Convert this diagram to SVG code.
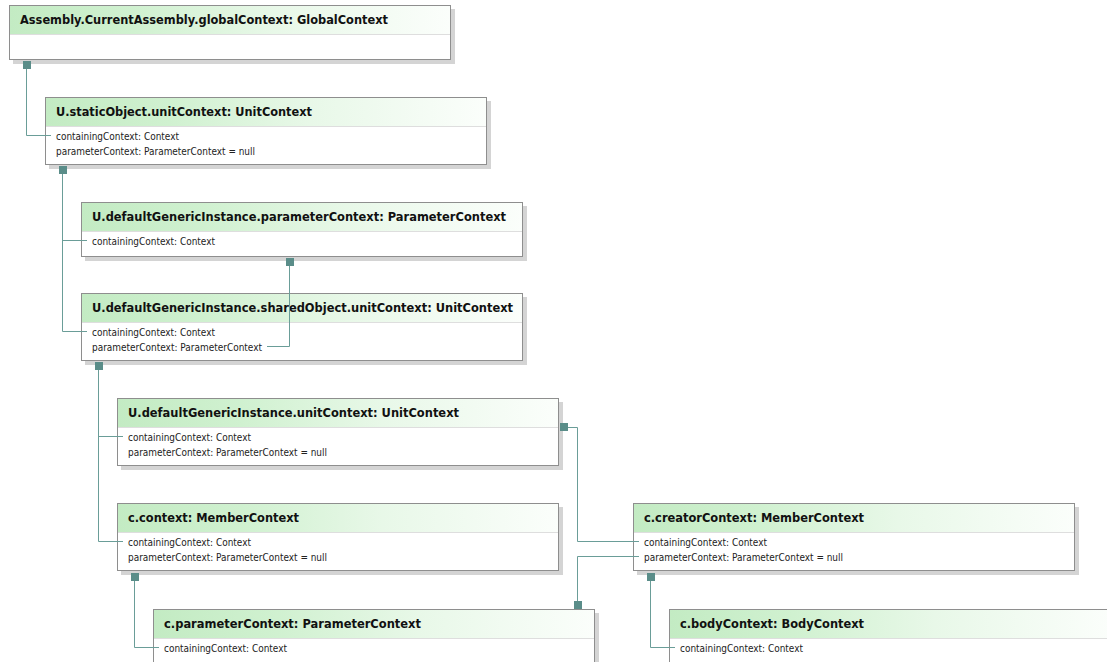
<svg xmlns="http://www.w3.org/2000/svg" width="1107" height="662" viewBox="0 0 1107 662">
  <style>
    .shadow { fill: #d4d4d4; }
    .body { fill: #ffffff; stroke: #8e8e8e; stroke-width: 1; }
    .head { fill: url(#headFill); }
    .sep { stroke: #dedede; stroke-width: 1; }
    .title { font-family: "DejaVu Sans", Verdana, sans-serif; font-weight: bold; font-size: 12px; fill: #111111; }
    .attr { font-family: "DejaVu Sans", Verdana, sans-serif; font-size: 10px; fill: #222222; }
    .wire { fill: none; stroke: #6a9d98; stroke-width: 1; }
    .port { fill: #5a8d89; }
  </style>
  <defs>
    <linearGradient id="headFill" x1="0" y1="0" x2="1" y2="0">
      <stop offset="0" stop-color="#c3ebc3"/>
      <stop offset="0.28" stop-color="#d0f1d0"/>
      <stop offset="0.6" stop-color="#e8f8e8"/>
      <stop offset="1" stop-color="#fbfefb"/>
    </linearGradient>
  </defs>

  <rect width="1107" height="662" fill="#ffffff"/>

  <!-- object boxes -->
  <g id="globalContext" transform="translate(9,5)">
    <rect class="shadow" x="4" y="4" width="442" height="55"/>
    <rect class="body" x="0.5" y="0.5" width="441" height="54"/>
    <rect class="head" x="1" y="1" width="440" height="28"/>
    <line class="sep" x1="1" y1="29.5" x2="441" y2="29.5"/>
    <text class="title" x="11" y="18.5" textLength="368" lengthAdjust="spacingAndGlyphs">Assembly.CurrentAssembly.globalContext: GlobalContext</text>
  </g>

  <g id="staticUnitContext" transform="translate(45,97)">
    <rect class="shadow" x="4" y="4" width="442" height="68"/>
    <rect class="body" x="0.5" y="0.5" width="441" height="67"/>
    <rect class="head" x="1" y="1" width="440" height="28"/>
    <line class="sep" x1="1" y1="29.5" x2="441" y2="29.5"/>
    <text class="title" x="11" y="18.5" textLength="256" lengthAdjust="spacingAndGlyphs">U.staticObject.unitContext: UnitContext</text>
    <text class="attr" x="11" y="43" textLength="123" lengthAdjust="spacingAndGlyphs">containingContext: Context</text>
    <text class="attr" x="11" y="57.5" textLength="199" lengthAdjust="spacingAndGlyphs">parameterContext: ParameterContext = null</text>
  </g>

  <g id="genericParameterContext" transform="translate(81,202)">
    <rect class="shadow" x="4" y="4" width="442" height="55"/>
    <rect class="body" x="0.5" y="0.5" width="441" height="54"/>
    <rect class="head" x="1" y="1" width="440" height="28"/>
    <line class="sep" x1="1" y1="29.5" x2="441" y2="29.5"/>
    <text class="title" x="11" y="18.5" textLength="414" lengthAdjust="spacingAndGlyphs">U.defaultGenericInstance.parameterContext: ParameterContext</text>
    <text class="attr" x="11" y="43" textLength="123" lengthAdjust="spacingAndGlyphs">containingContext: Context</text>
  </g>

  <g id="sharedUnitContext" transform="translate(81,293)">
    <rect class="shadow" x="4" y="4" width="442" height="68"/>
    <rect class="body" x="0.5" y="0.5" width="441" height="67"/>
    <rect class="head" x="1" y="1" width="440" height="28"/>
    <line class="sep" x1="1" y1="29.5" x2="441" y2="29.5"/>
    <text class="title" x="11" y="18.5" textLength="421" lengthAdjust="spacingAndGlyphs">U.defaultGenericInstance.sharedObject.unitContext: UnitContext</text>
    <text class="attr" x="11" y="43" textLength="123" lengthAdjust="spacingAndGlyphs">containingContext: Context</text>
    <text class="attr" x="11" y="57.5" textLength="170" lengthAdjust="spacingAndGlyphs">parameterContext: ParameterContext</text>
  </g>

  <g id="genericUnitContext" transform="translate(117,398)">
    <rect class="shadow" x="4" y="4" width="442" height="68"/>
    <rect class="body" x="0.5" y="0.5" width="441" height="67"/>
    <rect class="head" x="1" y="1" width="440" height="28"/>
    <line class="sep" x1="1" y1="29.5" x2="441" y2="29.5"/>
    <text class="title" x="11" y="18.5" textLength="331" lengthAdjust="spacingAndGlyphs">U.defaultGenericInstance.unitContext: UnitContext</text>
    <text class="attr" x="11" y="43" textLength="123" lengthAdjust="spacingAndGlyphs">containingContext: Context</text>
    <text class="attr" x="11" y="57.5" textLength="199" lengthAdjust="spacingAndGlyphs">parameterContext: ParameterContext = null</text>
  </g>

  <g id="memberContext" transform="translate(117,503)">
    <rect class="shadow" x="4" y="4" width="442" height="68"/>
    <rect class="body" x="0.5" y="0.5" width="441" height="67"/>
    <rect class="head" x="1" y="1" width="440" height="28"/>
    <line class="sep" x1="1" y1="29.5" x2="441" y2="29.5"/>
    <text class="title" x="11" y="18.5" textLength="171" lengthAdjust="spacingAndGlyphs">c.context: MemberContext</text>
    <text class="attr" x="11" y="43" textLength="123" lengthAdjust="spacingAndGlyphs">containingContext: Context</text>
    <text class="attr" x="11" y="57.5" textLength="199" lengthAdjust="spacingAndGlyphs">parameterContext: ParameterContext = null</text>
  </g>

  <g id="creatorContext" transform="translate(633,503)">
    <rect class="shadow" x="4" y="4" width="442" height="68"/>
    <rect class="body" x="0.5" y="0.5" width="441" height="67"/>
    <rect class="head" x="1" y="1" width="440" height="28"/>
    <line class="sep" x1="1" y1="29.5" x2="441" y2="29.5"/>
    <text class="title" x="11" y="18.5" textLength="220" lengthAdjust="spacingAndGlyphs">c.creatorContext: MemberContext</text>
    <text class="attr" x="11" y="43" textLength="123" lengthAdjust="spacingAndGlyphs">containingContext: Context</text>
    <text class="attr" x="11" y="57.5" textLength="199" lengthAdjust="spacingAndGlyphs">parameterContext: ParameterContext = null</text>
  </g>

  <g id="memberParameterContext" transform="translate(153,609)">
    <rect class="shadow" x="4" y="4" width="442" height="100"/>
    <rect class="body" x="0.5" y="0.5" width="441" height="99"/>
    <rect class="head" x="1" y="1" width="440" height="28"/>
    <line class="sep" x1="1" y1="29.5" x2="441" y2="29.5"/>
    <text class="title" x="11" y="18.5" textLength="257" lengthAdjust="spacingAndGlyphs">c.parameterContext: ParameterContext</text>
    <text class="attr" x="11" y="43" textLength="123" lengthAdjust="spacingAndGlyphs">containingContext: Context</text>
  </g>

  <g id="bodyContext" transform="translate(669,609)">
    <rect class="shadow" x="4" y="4" width="442" height="100"/>
    <rect class="body" x="0.5" y="0.5" width="441" height="99"/>
    <rect class="head" x="1" y="1" width="440" height="28"/>
    <line class="sep" x1="1" y1="29.5" x2="441" y2="29.5"/>
    <text class="title" x="11" y="18.5" textLength="184" lengthAdjust="spacingAndGlyphs">c.bodyContext: BodyContext</text>
    <text class="attr" x="11" y="43" textLength="123" lengthAdjust="spacingAndGlyphs">containingContext: Context</text>
  </g>

  <!-- containment links: port square on the owner, line into the referencing field -->
  <g id="connectors">
    <path class="wire" d="M26.5 69 V135.5 H51"/>
    <path class="wire" d="M62.5 174 V331.5 H87 M62.5 240.5 H87"/>
    <path class="wire" d="M289.5 266 V346.5 H267"/>
    <path class="wire" d="M98.5 370 V541.5 H123 M98.5 436.5 H123"/>
    <path class="wire" d="M568 427.5 H577.5 V541.5 H639"/>
    <path class="wire" d="M639 556.5 H577.5 V601"/>
    <path class="wire" d="M134.5 581 V647.5 H159"/>
    <path class="wire" d="M650.5 581 V647.5 H675"/>

    <rect class="port" x="23" y="61" width="8" height="8"/>
    <rect class="port" x="59" y="166" width="8" height="8"/>
    <rect class="port" x="286" y="258" width="8" height="8"/>
    <rect class="port" x="95" y="362" width="8" height="8"/>
    <rect class="port" x="560" y="423" width="8" height="8"/>
    <rect class="port" x="131" y="573" width="8" height="8"/>
    <rect class="port" x="647" y="573" width="8" height="8"/>
    <rect class="port" x="574" y="601" width="8" height="8"/>
  </g>
</svg>
